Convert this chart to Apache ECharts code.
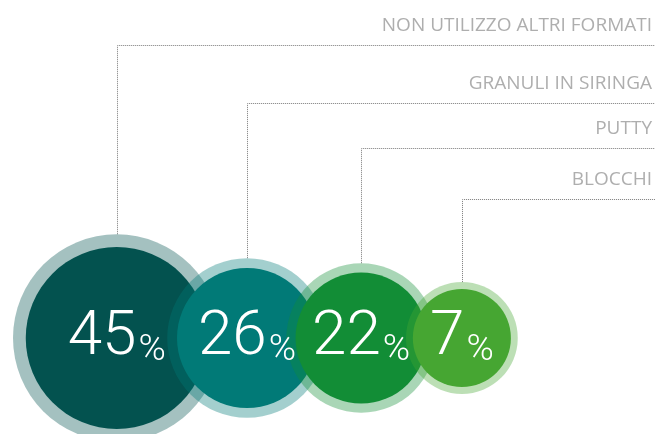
<!DOCTYPE html>
<html>
<head>
<meta charset="utf-8">
<script src="https://cdn.jsdelivr.net/npm/echarts@6/dist/echarts.min.js"></script>
<style>
  html, body { margin: 0; padding: 0; background: #ffffff; }
  #chart { width: 657px; height: 434px; }
</style>
</head>
<body>
<div id="chart"></div>
<script>
// ---- data ----
const categories = ['NON UTILIZZO ALTRI FORMATI', 'GRANULI IN SIRINGA', 'PUTTY', 'BLOCCHI'];
const values = [45, 26, 22, 7];

// ---- styles / layout ----
const innerColors = ['#03524f', '#017a77', '#128d36', '#46a632'];
const W = 657, H = 434;
const baseY = 338;                 // common centre line of the bubbles
const labelLevels = [45, 103, 148, 199]; // y of each annotation row
const leftPad = 13;

function innerR(v) { return 41.3 + 1.105 * v; }
function outerR(v) { return innerR(v) * 1.14; }

// horizontal layout: cumulative, overlapping bubbles
const centers = [];
values.forEach((v, i) => {
  if (i === 0) centers.push(leftPad + outerR(v));
  else {
    const s = 27.83 + 0.636 * (innerR(values[i - 1]) + innerR(v));
    centers.push(centers[i - 1] + s);
  }
});

function hexA(hex, a) {
  const n = parseInt(hex.slice(1), 16);
  return 'rgba(' + (n >> 16) + ',' + ((n >> 8) & 255) + ',' + (n & 255) + ',' + a + ')';
}

const bubbleData = [];
values.forEach((v, i) => {
  bubbleData.push({
    value: [centers[i], baseY],
    symbolSize: 2 * outerR(v),
    itemStyle: { color: hexA(innerColors[i], 0.36), opacity: 1 },
    label: { show: false }
  });
  bubbleData.push({
    value: [centers[i], baseY],
    symbolSize: 2 * innerR(v),
    itemStyle: { color: innerColors[i], opacity: 1 },
    label: {
      show: true,
      position: 'inside',
      formatter: '{n|' + v + '}{p|%}',
      rich: {
        n: { fontFamily: 'Roboto', fontWeight: 300, fontSize: 62, color: '#ffffff', verticalAlign: 'bottom', lineHeight: 62 },
        p: { fontFamily: 'Roboto', fontWeight: 300, fontSize: 37, color: '#ffffff', verticalAlign: 'bottom', lineHeight: 62, padding: [0, 0, 0, 2] }
      }
    }
  });
});

const leaderSeries = values.map((v, i) => {
  const x = Math.round(centers[i]) + 0.5;
  const y = labelLevels[i] + 0.5;
  return {
    type: 'line',
    silent: true,
    symbol: 'none',
    z: 1,
    lineStyle: { type: 'dotted', width: 1, color: '#7a7a7a', opacity: 1 },
    data: [[x, baseY - outerR(v)], [x, y], [W - 2, y]]
  };
});

const labelSeries = {
  type: 'scatter',
  silent: true,
  symbolSize: 0,
  z: 3,
  data: categories.map((c, i) => ({
    value: [W, labelLevels[i]],
    label: {
      show: true,
      position: 'left',
      distance: 5,
      offset: [0, -19],
      formatter: c,
      fontFamily: 'Open Sans',
      fontWeight: 400,
      fontSize: 19,
      color: '#9a9a9a'
    }
  }))
};

const chart = echarts.init(document.getElementById('chart'), null, { renderer: 'canvas' });
chart.setOption({
  animation: false,
  backgroundColor: '#ffffff',
  grid: { left: 0, right: 0, top: 0, bottom: 0 },
  xAxis: { type: 'value', min: 0, max: W, show: false },
  yAxis: { type: 'value', min: 0, max: H, inverse: true, show: false },
  series: leaderSeries.concat([
    {
      type: 'scatter',
      silent: true,
      clip: false,
      z: 2,
      symbol: 'circle',
      data: bubbleData
    },
    labelSeries
  ])
});
</script>
</body>
</html>
